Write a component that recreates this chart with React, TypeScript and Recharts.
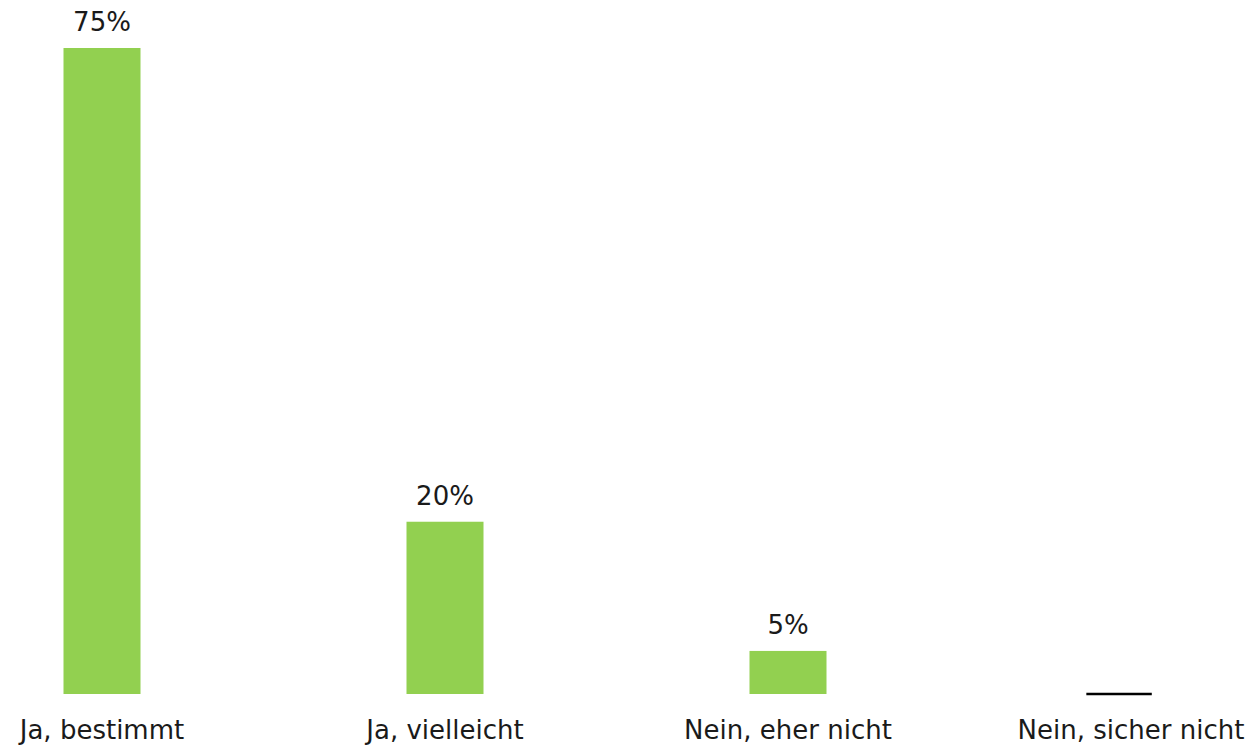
import { BarChart, Bar, XAxis, YAxis, LabelList } from "recharts";

const categories = ["Ja, bestimmt", "Ja, vielleicht", "Nein, eher nicht", "Nein, sicher nicht"];
const shares = [75, 20, 5, 0];

const data = categories.map((name, i) => ({ name, value: shares[i] }));

const FONT = "'DejaVu Sans', Verdana, sans-serif";

// a zero bar shows up as a thin black dash on the baseline
function BarShape(props: any) {
  const { x, y, width, height, fill } = props;
  if (!height) {
    return (
      <line
        x1={x - width * 0.08}
        x2={x + width * 0.77}
        y1={y}
        y2={y}
        stroke="#000"
        strokeWidth={2.5}
      />
    );
  }
  return <rect x={x} y={y} width={width} height={height} fill={fill} />;
}

export default function App() {
  return (
    <div>
      <style>{`body{margin:0}`}</style>
      <BarChart
        width={1253}
        height={748}
        data={data}
        margin={{ top: 48, right: -49.5, left: -69.5, bottom: 0 }}
      >
        <XAxis
          dataKey="name"
          axisLine={false}
          tickLine={false}
          tickSize={0}
          tickMargin={27}
          height={54}
          interval={0}
          tick={{ fill: "#1a1a1a", fontSize: 26, fontFamily: FONT }}
        />
        <YAxis hide domain={[0, 75]} />
        <Bar
          dataKey="value"
          fill="#92D050"
          barSize={77}
          isAnimationActive={false}
          shape={<BarShape />}
        >
          <LabelList
            dataKey="value"
            position="top"
            offset={17}
            fill="#1a1a1a"
            fontSize={26}
            fontFamily={FONT}
            formatter={(v: any) => (v ? `${v}%` : "")}
          />
        </Bar>
      </BarChart>
    </div>
  );
}
